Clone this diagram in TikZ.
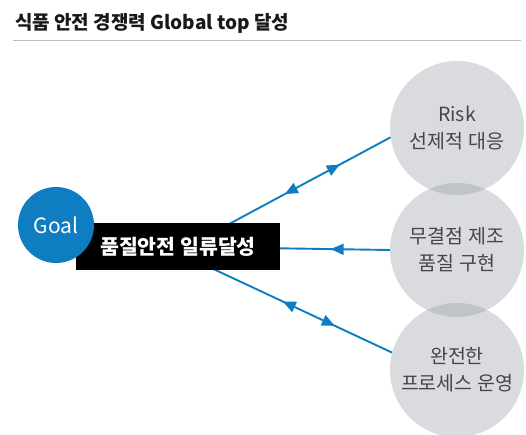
\documentclass[tikz,border=0pt]{standalone}
\usepackage{fontspec}
\setmainfont{Noto Sans CJK KR}
\usetikzlibrary{arrows.meta,decorations.markings}
\definecolor{goalblue}{RGB}{14,125,194}
\definecolor{circgray}{RGB}{140,146,155}
\definecolor{txtgray}{RGB}{70,70,72}
\definecolor{rulegray}{RGB}{190,190,190}
\tikzset{
  circ/.style={circle, minimum size=134pt, inner sep=0pt, fill=circgray, fill opacity=0.33,
    text opacity=1, text=txtgray, align=center, font=\fontsize{19.5}{27}\selectfont},
  conn/.style={color=goalblue, line width=1.9pt},
  fwd/.style={postaction={decorate, decoration={markings,
    mark=at position #1 with {\arrow{Triangle[length=13pt,width=11pt]}}}}},
  bwd/.style={postaction={decorate, decoration={markings,
    mark=at position #1 with {\arrowreversed{Triangle[length=13pt,width=11pt]}}}}},
}
\begin{document}
\begin{tikzpicture}[x=1pt,y=-1pt]
\useasboundingbox (0,0) rectangle (526,435);
% title
\node[anchor=base west, inner sep=0pt, font=\fontsize{19}{23}\selectfont\bfseries, text=black!90] (title) at (15,29.5) {식품 안전 경쟁력 Global top 달성};
\coordinate (rl) at (13,40.5);
\coordinate (rr) at (521,40.5);
\draw[rulegray, line width=1.2pt] (rl) -- (rr);
% circles
\node[circ] (c1) at (457,128) {Risk\\선제적 대응};
\node[circ] (c2) at (457,250) {무결점 제조\\품질 구현};
\node[circ] (c3) at (457,370) {완전한\\프로세스 운영};
% connectors (start behind the box)
\coordinate (hub) at (177,252);
\draw[conn, fwd=0.763, bwd=0.505] (hub) -- (c1.188);
\draw[conn, fwd=0.734, bwd=0.492] (hub) -- (c3.165);
% box and goal
\node[fill=black, text=white, minimum width=204pt, minimum height=46.5pt, inner sep=0pt, font=\fontsize{20.5}{24}\selectfont\bfseries] (box) at (178,246.75) {품질안전 일류달성};
\node[circle, fill=goalblue, minimum size=76pt, inner sep=0pt, text=white, font=\fontsize{21}{25}\selectfont] (goal) at (56,225) {Goal};
\draw[conn, bwd=0.46] (box) -- (c2.west);
\end{tikzpicture}
\end{document}
